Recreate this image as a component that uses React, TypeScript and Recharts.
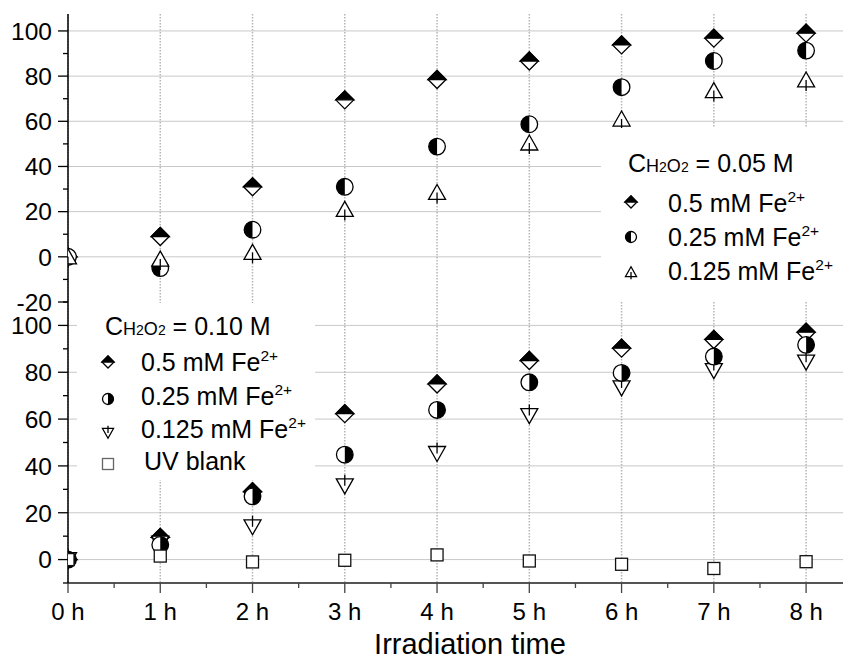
import React from 'react';
import { ScatterChart, Scatter, XAxis, YAxis, CartesianGrid, Legend } from 'recharts';

const FONT = "'Liberation Sans', Arial, Helvetica, sans-serif";

// ---------- data ----------
const hours = [0, 1, 2, 3, 4, 5, 6, 7, 8];
const hourTicks = [0, 0.5, 1, 1.5, 2, 2.5, 3, 3.5, 4, 4.5, 5, 5.5, 6, 6.5, 7, 7.5, 8];
const hourLabels = ['0 h', '1 h', '2 h', '3 h', '4 h', '5 h', '6 h', '7 h', '8 h'];

// upper panel: C(H2O2) = 0.05 M
const top05 = [0, 9, 31, 69.5, 78.5, 86.7, 93.8, 96.8, 99];
const top025 = [0, -5, 12, 31, 48.8, 58.7, 75.1, 86.7, 91.3];
const top0125 = [0, -1, 2, 21, 28.5, 50.4, 61, 73.6, 78.3];

// lower panel: C(H2O2) = 0.10 M
const bot05 = [0, 9.5, 29, 62.3, 75, 85, 90.3, 94, 97.1];
const bot025 = [0, 6.3, 27, 44.8, 63.9, 75.7, 79.7, 86.7, 91.7];
const bot0125 = [0, 7, 14, 31.5, 45.3, 61.5, 73.3, 80.7, 84.3];
const uvBlank = [0, 1.5, -1, -0.3, 2, -0.6, -2, -3.8, -0.9];

const topYTicks = [-20, -10, 0, 10, 20, 30, 40, 50, 60, 70, 80, 90, 100];
const topYMajor = [-20, 0, 20, 40, 60, 80, 100];
const botYTicks = [-10, 0, 10, 20, 30, 40, 50, 60, 70, 80, 90, 100, 110];
const botYMajor = [0, 20, 40, 60, 80, 100];
const gridY = [0, 20, 40, 60, 80, 100];

const seriesLabels = ['0.5 mM Fe', '0.25 mM Fe', '0.125 mM Fe'];
const blankLabel = 'UV blank';
const topHeader = ['C', 'H', '2', 'O', '2', ' = 0.05 M'];
const botHeader = ['C', 'H', '2', 'O', '2', ' = 0.10 M'];

const toPts = (arr: number[]) => hours.map((h, i) => ({ x: h, y: arr[i] }));

// ---------- marker shapes ----------
const SW = 1.3;
const HalfDiamond = ({ cx, cy, r = 9 }: any) => (
  <g>
    <polygon points={`${cx},${cy - r} ${cx + r},${cy} ${cx},${cy + r} ${cx - r},${cy}`} fill="#fff" stroke="#000" strokeWidth={SW} />
    <polygon points={`${cx - r},${cy} ${cx},${cy - r} ${cx + r},${cy}`} fill="#000" stroke="#000" strokeWidth={SW} />
  </g>
);
const HalfCircle = ({ cx, cy, r = 8.3, side }: any) => (
  <g>
    <circle cx={cx} cy={cy} r={r} fill="#fff" stroke="#000" strokeWidth={SW} />
    <path d={`M${cx},${cy - r} A${r},${r} 0 0 ${side === 'left' ? 0 : 1} ${cx},${cy + r} Z`} fill="#000" />
  </g>
);
const TriUp = ({ cx, cy, s = 1 }: any) => (
  <g>
    <polygon points={`${cx},${cy - 8 * s} ${cx + 8.5 * s},${cy + 7 * s} ${cx - 8.5 * s},${cy + 7 * s}`} fill="#fff" stroke="#000" strokeWidth={SW} />
    <line x1={cx} x2={cx} y1={cy} y2={cy + 11 * s} stroke="#000" strokeWidth={SW} />
  </g>
);
const TriDown = ({ cx, cy, s = 1 }: any) => (
  <g>
    <polygon points={`${cx - 8.5 * s},${cy - 7 * s} ${cx + 8.5 * s},${cy - 7 * s} ${cx},${cy + 8 * s}`} fill="#fff" stroke="#000" strokeWidth={SW} />
    <line x1={cx} x2={cx} y1={cy - 11 * s} y2={cy} stroke="#000" strokeWidth={SW} />
  </g>
);
const Square = ({ cx, cy, a = 12, color = '#111' }: any) => (
  <rect x={cx - a / 2} y={cy - a / 2} width={a} height={a} fill="#fff" stroke={color} strokeWidth={SW} />
);

// ---------- ticks ----------
const makeYTick = (majors: number[]) => (props: any) => {
  const { x, y, payload } = props;
  const v = payload.value;
  const major = majors.includes(v);
  return (
    <g>
      <line x1={x} x2={x - (major ? 10 : 5)} y1={y} y2={y} stroke="#000" strokeWidth={SW} />
      {major && (
        <text x={x - 16} y={y} dy="0.36em" textAnchor="end" fontSize={24.5} fontFamily={FONT} fill="#000">
          {v}
        </text>
      )}
    </g>
  );
};
const XBottomTick = (props: any) => {
  const { x, y, payload } = props;
  const v = payload.value;
  const major = Number.isInteger(v);
  return (
    <g>
      <line x1={x} x2={x} y1={y} y2={y + (major ? 10 : 5)} stroke="#444" strokeWidth={SW} />
      {major && (
        <text x={x} y={y + 37} textAnchor="middle" fontSize={24} fontFamily={FONT} fill="#000">
          {hourLabels[v]}
        </text>
      )}
    </g>
  );
};
const XTopTick = (props: any) => {
  const { x, y, payload } = props;
  const major = Number.isInteger(payload.value);
  return <line x1={x} x2={x} y1={y} y2={y + (major ? 10 : 4)} stroke="#000" strokeWidth={SW} />;
};

// ---------- legends ----------
const Header = ({ x, y, parts }: any) => (
  <text x={x} y={y} fontFamily={FONT} fill="#000" fontSize={25}>
    {parts[0]}
    <tspan fontSize={18}>{parts[1]}</tspan>
    <tspan fontSize={14}>{parts[2]}</tspan>
    <tspan fontSize={18}>{parts[3]}</tspan>
    <tspan fontSize={14}>{parts[4]}</tspan>
    <tspan>{parts[5]}</tspan>
  </text>
);
const ItemText = ({ x, y, label, sup = true }: any) => (
  <text x={x} y={y} fontFamily={FONT} fill="#000" fontSize={25}>
    {label}
    {sup && (
      <tspan fontSize={15.5} dy={-10}>
        2+
      </tspan>
    )}
  </text>
);

const TopLegend = () => (
  <div style={{ width: 242, height: 174, background: '#fff' }}>
    <svg width={242} height={174} style={{ display: 'block' }}>
      <Header x={27} y={44} parts={topHeader} />
      <HalfDiamond cx={30} cy={74} r={6} />
      <ItemText x={67} y={84} label={seriesLabels[0]} />
      <HalfCircle cx={30} cy={109} r={5.5} side="left" />
      <ItemText x={67} y={118} label={seriesLabels[1]} />
      <TriUp cx={30} cy={144} s={0.65} />
      <ItemText x={67} y={152} label={seriesLabels[2]} />
    </svg>
  </div>
);
const BottomLegend = () => (
  <div style={{ width: 238, height: 177, background: '#fff' }}>
    <svg width={238} height={177} style={{ display: 'block' }}>
      <Header x={28} y={32} parts={botHeader} />
      <HalfDiamond cx={31} cy={59} r={6} />
      <ItemText x={64} y={68} label={seriesLabels[0]} />
      <HalfCircle cx={31} cy={96} r={5.5} side="right" />
      <ItemText x={64} y={102} label={seriesLabels[1]} />
      <TriDown cx={31} cy={130} s={0.65} />
      <ItemText x={64} y={135} label={seriesLabels[2]} />
      <Square cx={31} cy={161} a={11} color="#666" />
      <ItemText x={67} y={167} label={blankLabel} sup={false} />
    </svg>
  </div>
);

const vGrid = { stroke: '#b5b5b5', strokeWidth: 1.5, strokeDasharray: '1.5 1.5' };

export default function App() {
  return (
    <div style={{ position: 'absolute', left: 0, top: 0, width: 843, height: 659, background: '#fff' }}>
      {/* upper panel */}
      <div style={{ position: 'absolute', left: 0, top: 0 }}>
        <ScatterChart width={843} height={320} margin={{ top: 14, right: 0, bottom: 18, left: 0 }}>
          <CartesianGrid horizontal={true} vertical={false} horizontalValues={gridY} stroke="#c8c8c8" strokeWidth={1} />
          <CartesianGrid horizontal={false} vertical={true} verticalValues={hours} {...vGrid} />
          <XAxis type="number" dataKey="x" domain={[0, 8.4]} allowDataOverflow hide />
          <YAxis
            type="number"
            dataKey="y"
            width={68}
            domain={[-20, 107.5]}
            allowDataOverflow
            ticks={topYTicks}
            interval={0}
            tickSize={0}
            tickMargin={0}
            tickLine={false}
            axisLine={{ stroke: '#000', strokeWidth: 1.5 }}
            tick={makeYTick(topYMajor)}
          />
          <Legend
            layout="vertical"
            align="center"
            verticalAlign="middle"
            content={() => <TopLegend />}
            wrapperStyle={{ left: 601, top: 128, width: 242, height: 174 }}
          />
          <Scatter name="0.5 mM" data={toPts(top05)} isAnimationActive={false} shape={(p: any) => <HalfDiamond cx={p.cx} cy={p.cy} />} />
          <Scatter name="0.25 mM" data={toPts(top025)} isAnimationActive={false} shape={(p: any) => <HalfCircle cx={p.cx} cy={p.cy} side="left" />} />
          <Scatter name="0.125 mM" data={toPts(top0125)} isAnimationActive={false} shape={(p: any) => <TriUp cx={p.cx} cy={p.cy} />} />
        </ScatterChart>
      </div>
      {/* lower panel */}
      <div style={{ position: 'absolute', left: 0, top: 0 }}>
        <ScatterChart width={843} height={659} margin={{ top: 302, right: 0, bottom: 0, left: 0 }}>
          <CartesianGrid horizontal={true} vertical={false} horizontalValues={gridY} stroke="#c8c8c8" strokeWidth={1} />
          <CartesianGrid horizontal={false} vertical={true} verticalValues={hours} {...vGrid} />
          <XAxis
            type="number"
            dataKey="x"
            domain={[0, 8.4]}
            allowDataOverflow
            ticks={hourTicks}
            interval={0}
            height={76}
            tickSize={0}
            tickMargin={0}
            tickLine={false}
            axisLine={{ stroke: '#555', strokeWidth: 2 }}
            tick={XBottomTick}
            label={{
              content: () => (
                <text x={470} y={654} textAnchor="middle" fontSize={29} fontFamily={FONT} fill="#000">
                  Irradiation time
                </text>
              ),
            }}
          />
          <XAxis
            xAxisId="top"
            orientation="top"
            type="number"
            domain={[0, 8.4]}
            allowDataOverflow
            ticks={hourTicks}
            interval={0}
            height={0}
            tickSize={0}
            tickMargin={0}
            tickLine={false}
            axisLine={{ stroke: '#000', strokeWidth: 1.5 }}
            tick={XTopTick}
          />
          <YAxis
            type="number"
            dataKey="y"
            width={68}
            domain={[-10, 110]}
            allowDataOverflow
            ticks={botYTicks}
            interval={0}
            tickSize={0}
            tickMargin={0}
            tickLine={false}
            axisLine={{ stroke: '#000', strokeWidth: 1.5 }}
            tick={makeYTick(botYMajor)}
          />
          <Legend
            layout="vertical"
            align="center"
            verticalAlign="middle"
            content={() => <BottomLegend />}
            wrapperStyle={{ left: 77, top: 303, width: 238, height: 177 }}
          />
          <Scatter name="0.5 mM" data={toPts(bot05)} isAnimationActive={false} shape={(p: any) => <HalfDiamond cx={p.cx} cy={p.cy} />} />
          <Scatter name="0.125 mM" data={toPts(bot0125)} isAnimationActive={false} shape={(p: any) => <TriDown cx={p.cx} cy={p.cy} />} />
          <Scatter name="0.25 mM" data={toPts(bot025)} isAnimationActive={false} shape={(p: any) => <HalfCircle cx={p.cx} cy={p.cy} side="right" />} />
          <Scatter name="UV blank" data={toPts(uvBlank)} isAnimationActive={false} shape={(p: any) => <Square cx={p.cx} cy={p.cy} />} />
        </ScatterChart>
      </div>
    </div>
  );
}
